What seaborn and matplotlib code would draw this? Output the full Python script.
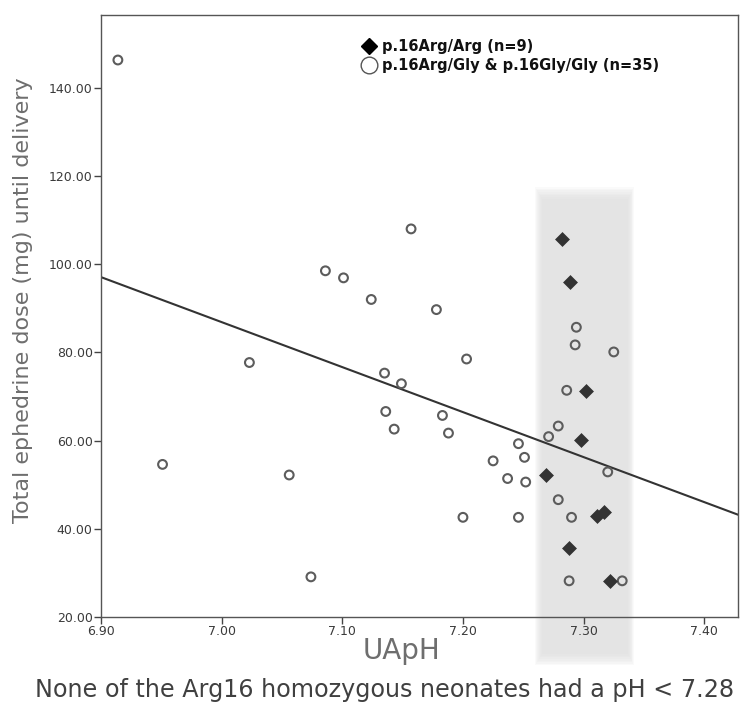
import numpy as np
import pandas as pd
import matplotlib
matplotlib.use("Agg")
import matplotlib.pyplot as plt
from matplotlib.patches import Rectangle
from matplotlib.lines import Line2D
import seaborn as sns

# ---- data ----
arg_ph = [7.282, 7.289, 7.302, 7.298, 7.269, 7.311, 7.317, 7.288, 7.322]
arg_dose = [105.6, 96.0, 71.2, 60.1, 52.3, 42.9, 43.7, 35.6, 28.2]

gly_ph = [6.914, 7.157, 7.086, 7.101, 7.124, 7.023, 6.951, 7.056, 7.074,
          7.135, 7.149, 7.136, 7.143, 7.178, 7.203, 7.183, 7.188, 7.225,
          7.246, 7.251, 7.237, 7.252, 7.200, 7.246, 7.271, 7.279, 7.279,
          7.290, 7.320, 7.286, 7.293, 7.294, 7.325, 7.288, 7.332]
gly_dose = [146.3, 108.0, 98.5, 96.9, 92.0, 77.7, 54.6, 52.2, 29.1,
            75.3, 72.9, 66.6, 62.6, 89.7, 78.5, 65.7, 61.7, 55.4,
            59.3, 56.2, 51.4, 50.6, 42.6, 42.6, 60.9, 63.3, 46.6,
            42.6, 52.9, 71.4, 81.7, 85.7, 80.1, 28.2, 28.2]

x_ticks = [6.90, 7.00, 7.10, 7.20, 7.30, 7.40]
y_ticks = [20, 40, 60, 80, 100, 120, 140]
band = (7.260, 7.342, 9.0, 117.5)

label_arg = "p.16Arg/Arg (n=9)"
label_gly = "p.16Arg/Gly & p.16Gly/Gly (n=35)"

df_arg = pd.DataFrame({"UApH": arg_ph, "dose": arg_dose})
df_gly = pd.DataFrame({"UApH": gly_ph, "dose": gly_dose})
df_all = pd.concat([df_arg, df_gly], ignore_index=True)

sns.set_theme(style="white")
plt.rcParams["font.family"] = ["DejaVu Sans"]

XLIM = (6.90, 7.428)
YLIM = (20, 156.5)

fig = plt.figure(figsize=(7.47, 7.02), dpi=100)
ax = fig.add_axes([0.1352, 0.1211, 0.8528, 0.8575])
ax.set_xlim(*XLIM)
ax.set_ylim(*YLIM)

# soft grey band
x0, x1, y0, y1 = band
n = 8
for i in range(n):
    pad_x = 0.006 * (1 - i / n)
    pad_y = 3.0 * (1 - i / n)
    ax.add_patch(Rectangle((x0 - pad_x + 0.006, y0 - pad_y + 3.0),
                           (x1 - x0) + 2 * pad_x - 0.012,
                           (y1 - y0) + 2 * pad_y - 6.0,
                           facecolor="#d9d9d9", edgecolor="none",
                           alpha=0.12, clip_on=False, zorder=0))

sns.regplot(data=df_all, x="UApH", y="dose", scatter=False, ci=None,
            truncate=False, ax=ax,
            line_kws=dict(color="#333333", lw=1.5, zorder=2))

sns.scatterplot(data=df_gly, x="UApH", y="dose", marker="o", s=40,
                facecolor="none", edgecolor="#5c5c5c", linewidth=1.5,
                ax=ax, zorder=3)
sns.scatterplot(data=df_arg, x="UApH", y="dose", marker="D", s=50,
                color="#333333", edgecolor="#333333", linewidth=0.5,
                ax=ax, zorder=4)

ax.set_xlim(*XLIM)
ax.set_ylim(*YLIM)
ax.set_xticks(x_ticks)
ax.set_xticklabels([f"{v:.2f}" for v in x_ticks])
ax.set_yticks(y_ticks)
ax.set_yticklabels([f"{v:.2f}" for v in y_ticks])
ax.tick_params(axis="both", which="major", direction="out", length=5,
               width=1, color="#444444", labelsize=9, labelcolor="#3a3a3a",
               pad=1, bottom=True, left=True)
for lab in ax.get_xticklabels() + ax.get_yticklabels():
    lab.set_fontfamily(["Liberation Sans Narrow", "DejaVu Sans"])
for sp in ax.spines.values():
    sp.set_color("#555555")
    sp.set_linewidth(1.0)

ax.set_xlabel("UApH", fontsize=20, color="#6e6e6e",
              family=["DejaVu Sans"], fontweight="normal")
ax.xaxis.set_label_coords(0.471, -0.0704)
ax.xaxis.label.set_verticalalignment("baseline")

ax.set_ylabel("Total ephedrine dose (mg) until delivery", fontsize=16,
              color="#6e6e6e", family=["DejaVu Sans"], fontweight="normal")
ax.yaxis.set_label_coords(-0.1224, 0.526)
ax.yaxis.label.set_verticalalignment("center")

fig.text(385 / 747, 1 - 697 / 702,
         "None of the Arg16 homozygous neonates had a pH < 7.28",
         ha="center", va="baseline", fontsize=17.2, color="#404040",
         family=["DejaVu Sans"], fontweight="normal")

handles = [
    Line2D([], [], marker="D", linestyle="none", markersize=8.5,
           markerfacecolor="black", markeredgecolor="black"),
    Line2D([], [], marker="o", linestyle="none", markersize=12,
           markerfacecolor="none", markeredgecolor="#555555", markeredgewidth=1),
]
leg = ax.legend(handles, [label_arg, label_gly], loc="upper left",
                bbox_to_anchor=(0.409, 0.9598), frameon=False,
                handlelength=1.0, handletextpad=0.4, labelspacing=0.25,
                borderpad=0, borderaxespad=0,
                prop=dict(family="DejaVu Sans", weight="bold", size=10.5))
for t in leg.get_texts():
    t.set_color("#111111")

fig.savefig("out.png", dpi=100)
